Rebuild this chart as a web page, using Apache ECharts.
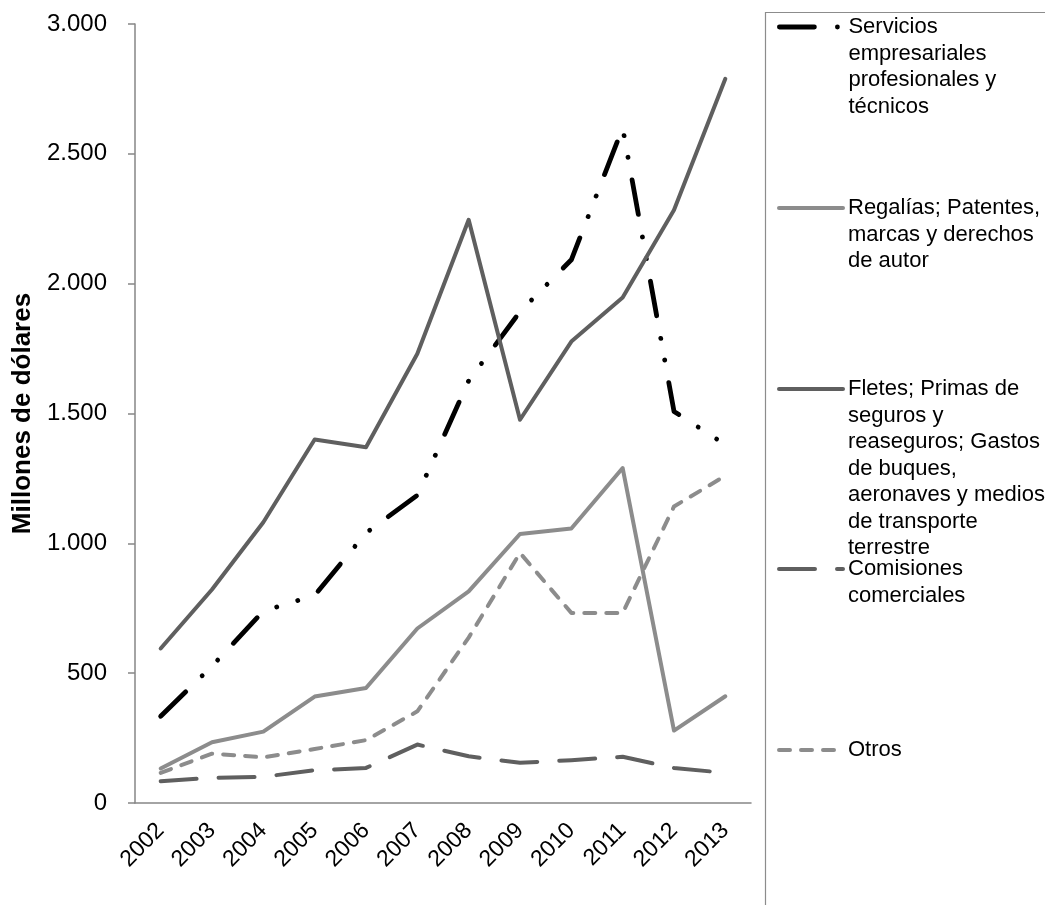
<!DOCTYPE html>
<html><head><meta charset="utf-8">
<script src="https://cdn.jsdelivr.net/npm/echarts@6/dist/echarts.min.js"></script>
<style>html,body{margin:0;padding:0;background:#fff}#c{width:1045px;height:905px}</style>
</head><body><div id="c"></div><script>
const years = ['2002','2003','2004','2005','2006','2007','2008','2009','2010','2011','2012','2013'];
const servicios = [334, 527, 739, 800, 1040, 1185, 1626, 1892, 2092, 2600, 1508, 1380];
const regalias = [133, 234, 275, 410, 443, 672, 815, 1036, 1057, 1290, 279, 411];
const fletes = [595, 822, 1081, 1400, 1370, 1730, 2246, 1476, 1777, 1947, 2284, 2789];
const comisiones = [84, 97, 101, 126, 135, 225, 180, 155, 165, 178, 135, 116];
const otros = [116, 190, 176, 208, 242, 353, 637, 963, 732, 732, 1142, 1260];
const seriesNames = [
  'Servicios empresariales profesionales y técnicos',
  'Regalías; Patentes, marcas y derechos de autor',
  'Fletes; Primas de seguros y reaseguros; Gastos de buques, aeronaves y medios de transporte terrestre',
  'Comisiones comerciales',
  'Otros'
];
const legendLines = [
  ['Servicios','empresariales','profesionales y','técnicos'],
  ['Regalías; Patentes,','marcas y derechos','de autor'],
  ['Fletes; Primas de','seguros y','reaseguros; Gastos','de buques,','aeronaves y medios','de transporte','terrestre'],
  ['Comisiones','comerciales'],
  ['Otros']
];
const yTicks = [0, 500, 1000, 1500, 2000, 2500, 3000];

const FONT = "'Liberation Sans', Arial, sans-serif";
const dataSets = [servicios, regalias, fletes, comisiones, otros];
const colors = ['#000000', '#8c8c8c', '#5f5f5f', '#5f5f5f', '#8c8c8c'];
const widths = [4.8, 4, 4, 4, 4];
const dashes = [[35, 23, 0.01, 22, 0.01, 23], 'solid', 'solid', [36, 22], [11, 11]];
const iconCenters = [27, 208, 389, 569, 750];
const LH = 26.5;

const series = dataSets.map((d, i) => ({
  name: seriesNames[i],
  type: 'line',
  data: d,
  symbol: 'none',
  color: colors[i],
  lineStyle: { color: colors[i], width: widths[i], type: dashes[i], cap: 'round', join: 'round' },
  emphasis: { disabled: true },
  animation: false
}));

const legends = seriesNames.map((nm, i) => {
  const n = legendLines[i].length;
  return {
    data: [nm],
    orient: 'vertical',
    left: 777,
    top: iconCenters[i] - (2 * n - 1) * LH / 2,
    padding: 0,
    itemWidth: 64,
    itemHeight: 2,
    selectedMode: false,
    itemStyle: { opacity: 0 },
    lineStyle: { color: colors[i], width: widths[i], type: dashes[i], cap: 'round', join: 'round' },
    textStyle: { fontSize: 22, lineHeight: LH, color: '#000', fontFamily: FONT },
    formatter: () => '\n'.repeat(n - 1) + legendLines[i].join('\n')
  };
});

const chart = echarts.init(document.getElementById('c'), null, { renderer: 'canvas' });
chart.setOption({
  backgroundColor: '#fff',
  animation: false,
  grid: { left: 135, right: 294, top: 24, bottom: 102, containLabel: false },
  legend: legends,
  xAxis: {
    type: 'category',
    data: years,
    boundaryGap: true,
    axisLine: { lineStyle: { color: '#868686', width: 1.5 } },
    axisTick: { show: false },
    axisLabel: { rotate: 45, fontSize: 23, color: '#000', fontFamily: FONT, margin: 24, interval: 0 }
  },
  yAxis: {
    type: 'value',
    min: 0, max: 3000, interval: 500,
    name: 'Millones de dólares',
    nameLocation: 'middle',
    nameGap: 96,
    nameRotate: 90,
    nameTextStyle: { fontSize: 26, fontWeight: 'bold', color: '#000', fontFamily: FONT },
    axisLine: { show: true, lineStyle: { color: '#868686', width: 1.5 } },
    axisTick: { show: true, length: 7, lineStyle: { color: '#868686', width: 1.5 } },
    splitLine: { show: false },
    axisLabel: {
      fontSize: 24, color: '#000', fontFamily: FONT, margin: 28,
      formatter: v => yTicks.includes(v) ? String(v).replace(/\B(?=(\d{3})+(?!\d))/g, '.') : ''
    }
  },
  graphic: [{
    type: 'rect', z: -1,
    shape: { x: 765.5, y: 12.5, width: 400, height: 1000 },
    style: { fill: 'none', stroke: '#8c8c8c', lineWidth: 1.2 }
  }],
  series: series
});
</script></body></html>
